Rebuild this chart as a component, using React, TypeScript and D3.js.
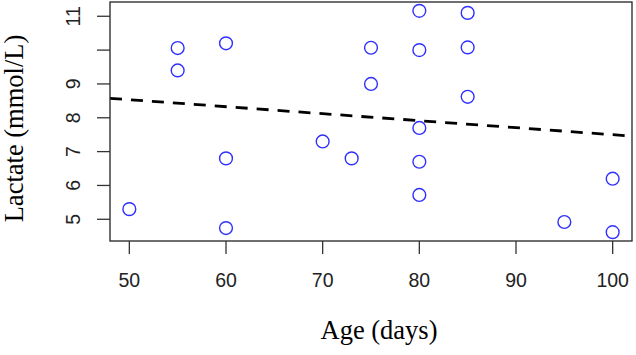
import React from "react";
import * as d3 from "d3";

const ages = [50, 55, 55, 60, 60, 60, 70, 73, 75, 75, 80, 80, 80, 80, 80, 85, 85, 85, 95, 100, 100];
const lactate = [5.3, 10.06, 9.4, 10.2, 6.8, 4.74, 7.3, 6.8, 10.07, 9.0, 11.16, 10.0, 7.7, 6.7, 5.72, 11.1, 10.08, 8.62, 4.92, 6.2, 4.62];
const xTicks = [50, 60, 70, 80, 90, 100];
const yTicks = [5, 6, 7, 8, 9, 10, 11];
const yTickLabels = ["5", "6", "7", "8", "9", "", "11"];
const trendIntercept = 9.57;
const trendSlope = -0.0207;
const xTitle = "Age (days)";
const yTitle = "Lactate (mmol/L)";

const W = 636;
const H = 355;
const box = { left: 110, top: 2, right: 632, bottom: 241 };

export default function App() {
  const xExt = d3.extent(ages) as [number, number];
  const yExt = d3.extent(lactate) as [number, number];
  const xPad = (xExt[1] - xExt[0]) * 0.04;
  const yPad = (yExt[1] - yExt[0]) * 0.04;
  const x = d3.scaleLinear().domain([xExt[0] - xPad, xExt[1] + xPad]).range([box.left, box.right]);
  const y = d3.scaleLinear().domain([yExt[0] - yPad, yExt[1] + yPad]).range([box.bottom, box.top]);
  const [d0, d1] = x.domain();
  const line = d3.line<number>().x((d) => x(d)).y((d) => y(trendIntercept + trendSlope * d));
  const tickFont = "'Liberation Sans', Arial, sans-serif";
  const titleFont = "'Liberation Serif', 'Times New Roman', serif";
  return (
    <svg width={W} height={H} style={{ position: "absolute", left: 0, top: 0, background: "#fff" }}>
      <rect x={0} y={0} width={W} height={H} fill="#fff" />
      <path d={line([d0, d1]) || ""} fill="none" stroke="#000" strokeWidth={2.8} strokeDasharray="12 9" />
      {ages.map((a, i) => (
        <circle key={i} cx={x(a)} cy={y(lactate[i])} r={6.4} fill="none" stroke="#2f2fff" strokeWidth={1.4} />
      ))}
      <rect x={box.left} y={box.top} width={box.right - box.left} height={box.bottom - box.top} fill="none" stroke="#222" strokeWidth={1.3} />
      {xTicks.map((t) => (
        <g key={t}>
          <line x1={x(t)} x2={x(t)} y1={box.bottom} y2={box.bottom + 13} stroke="#333" strokeWidth={1.3} />
          <text x={x(t)} y={287} textAnchor="middle" fontFamily={tickFont} fontSize={19.5} fill="#222">{t}</text>
        </g>
      ))}
      {yTicks.map((t, i) => (
        <g key={t}>
          <line x1={box.left - 13} x2={box.left} y1={y(t)} y2={y(t)} stroke="#333" strokeWidth={1.3} />
          {yTickLabels[i] && (
            <text transform={`translate(80,${y(t)}) rotate(-90)`} textAnchor="middle" fontFamily={tickFont} fontSize={19.5} fill="#222">{yTickLabels[i]}</text>
          )}
        </g>
      ))}
      <text x={379} y={339} textAnchor="middle" fontFamily={titleFont} fontSize={26.5} fill="#000">{xTitle}</text>
      <text transform={`translate(23,${(box.top + box.bottom) / 2 + 7}) rotate(-90)`} textAnchor="middle" fontFamily={titleFont} fontSize={26.5} fill="#000">{yTitle}</text>
    </svg>
  );
}
